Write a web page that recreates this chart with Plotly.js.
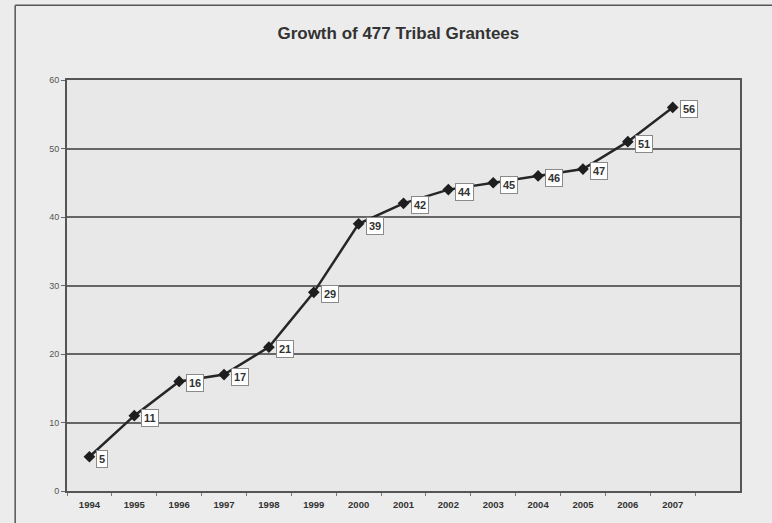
<!DOCTYPE html>
<html>
<head>
<meta charset="utf-8">
<script src="https://cdn.plot.ly/plotly-3.0.1.min.js"></script>
<style>
html,body{margin:0;padding:0;background:#ececec;}
#chart{width:772px;height:523px;}
</style>
</head>
<body>
<div id="chart"></div>
<script>
var years = ["1994","1995","1996","1997","1998","1999","2000","2001","2002","2003","2004","2005","2006","2007"];
var grantees = [5, 11, 16, 17, 21, 29, 39, 42, 44, 45, 46, 47, 51, 56];
var yTicks = [0, 10, 20, 30, 40, 50, 60];

var trace = {
  x: years,
  y: grantees,
  type: "scatter",
  mode: "lines+markers",
  line: {color: "#262626", width: 2.5},
  marker: {symbol: "diamond", size: 9, color: "#1e1e1e"},
  hoverinfo: "x+y"
};

var annotations = years.map(function(yr, i){
  return {
    x: i, y: grantees[i], xref: "x", yref: "y",
    text: "<b>" + grantees[i] + "</b>",
    showarrow: false,
    xanchor: "left",
    xshift: 7, yshift: -2,
    bgcolor: "#ffffff",
    bordercolor: "#8a8a8a",
    borderwidth: 1,
    borderpad: 2,
    font: {family: "Liberation Sans, Arial, sans-serif", size: 11, color: "#333333"}
  };
});

var layout = {
  width: 772, height: 523,
  paper_bgcolor: "#ececec",
  plot_bgcolor: "#e8e8e8",
  margin: {l: 67, r: 32, t: 80, b: 32},
  showlegend: false,
  title: {
    text: "<b>Growth of 477 Tribal Grantees</b>",
    x: 0.516, xanchor: "center", y: 0.936, yanchor: "middle",
    font: {family: "Liberation Sans, Arial, sans-serif", size: 17, color: "#333333"}
  },
  xaxis: {
    type: "category",
    range: [-0.5, 14.5],
    showgrid: false,
    zeroline: false,
    showline: true, linecolor: "#555555", linewidth: 2, mirror: true,
    ticks: "outside", tickson: "boundaries", ticklen: 3, tickcolor: "#777777",
    ticklabelstandoff: 4,
    tickfont: {family: "Liberation Sans, Arial, sans-serif", size: 9.5, color: "#333333", weight: "bold"},
    tickangle: 0
  },
  yaxis: {
    range: [0, 60],
    tickvals: yTicks,
    showgrid: true, gridcolor: "#666666", gridwidth: 2,
    zeroline: false,
    showline: true, linecolor: "#555555", linewidth: 2, mirror: true,
    ticks: "outside", ticklen: 4, tickcolor: "#666666",
    tickfont: {family: "Liberation Sans, Arial, sans-serif", size: 9, color: "#555555"}
  },
  annotations: annotations,
  shapes: [
    {type: "line", xref: "paper", yref: "paper", x0: -0.077, x1: -0.077, y0: -0.1, y1: 1.182,
     line: {color: "#555555", width: 1.5}},
    {type: "line", xref: "paper", yref: "paper", x0: -0.077, x1: 1.05, y0: 1.182, y1: 1.182,
     line: {color: "#555555", width: 1.5}}
  ]
};

Plotly.newPlot("chart", [trace], layout, {displayModeBar: false, staticPlot: true});
</script>
</body>
</html>
